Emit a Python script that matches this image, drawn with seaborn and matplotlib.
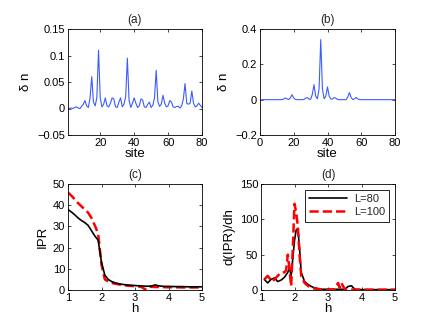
import numpy as np
import pandas as pd
import matplotlib
matplotlib.use("Agg")
import matplotlib.pyplot as plt
import seaborn as sns

# ---- data ----
site_a = list(range(1, 81))
dn_a = [0.001, 0.000, 0.001, 0.000, 0.002, 0.003, 0.001, 0.000, 0.004, 0.008,
        0.015, 0.005, 0.002, 0.020, 0.060, 0.012, 0.005, 0.020, 0.110, 0.020,
        0.003, 0.008, 0.020, 0.005, 0.003, 0.010, 0.020, 0.018, 0.003, 0.002,
        0.012, 0.020, 0.003, 0.008, 0.022, 0.095, 0.015, 0.002, 0.010, 0.020,
        0.010, 0.002, 0.005, 0.018, 0.016, 0.003, 0.002, 0.008, 0.012, 0.002,
        0.006, 0.020, 0.072, 0.012, 0.004, 0.008, 0.025, 0.010, 0.003, 0.005,
        0.015, 0.012, 0.003, 0.002, 0.004, 0.004, 0.001, 0.005, 0.018, 0.047,
        0.010, 0.008, 0.010, 0.033, 0.010, 0.003, 0.005, 0.010, 0.006, 0.002]

site_b = list(range(1, 81))
dn_b = [0, 0, 0, 0, 0, 0, 0, 0, 0, 0,
        0, 0, 0, 0.003, 0.010, 0.004, 0.001, 0.010, 0.028, 0.010,
        0.001, 0, 0, 0, 0, 0.001, 0.008, 0.012, 0.003, 0.002,
        0.030, 0.085, 0.020, 0.005, 0.060, 0.340, 0.060, 0.005, 0.020, 0.072,
        0.020, 0.003, 0.004, 0.012, 0.008, 0.001, 0, 0, 0, 0,
        0, 0.015, 0.040, 0.012, 0.001, 0.005, 0.012, 0.004, 0.001, 0,
        0, 0, 0, 0, 0, 0, 0, 0, 0, 0,
        0, 0, 0, 0, 0, 0, 0, 0, 0, 0]

h_c = [1.0, 1.1, 1.2, 1.3, 1.4, 1.5, 1.6, 1.7, 1.8, 1.9, 2.0, 2.1, 2.2, 2.3, 2.4,
       2.5, 2.6, 2.7, 2.8, 2.9, 3.0, 3.1, 3.2, 3.3, 3.4, 3.5, 3.6, 3.7, 3.8, 3.9,
       4.0, 4.2, 4.4, 4.6, 4.8, 5.0]
ipr_80 = [38.0, 36.8, 35.5, 34.0, 32.8, 31.8, 30.5, 28.0, 25.5, 23.5, 13.0, 7.0,
          5.0, 4.0, 3.4, 3.0, 2.7, 2.5, 2.3, 2.2, 2.1, 2.0, 1.9, 1.8, 1.8, 1.9,
          2.4, 2.0, 1.8, 1.7, 1.7, 1.6, 1.6, 1.5, 1.5, 1.5]
ipr_100 = [46.0, 44.5, 42.8, 41.0, 39.5, 38.0, 36.5, 34.0, 30.5, 26.5, 12.0, 5.0,
           4.0, 3.3, 3.0, 2.7, 2.4, 2.2, 2.0, 1.9, 1.8, 1.7, 1.4, 0.3, 1.5, 1.5,
           1.4, 1.4, 1.4, 1.3, 1.3, 1.3, 1.2, 1.2, 1.2, 1.2]

h_d80 = [1.1, 1.2, 1.3, 1.4, 1.5, 1.6, 1.7, 1.8, 1.85, 1.9, 1.95, 2.0, 2.05, 2.1,
         2.15, 2.2, 2.3, 2.4, 2.5, 2.6, 2.8, 3.0, 3.2, 3.4, 3.5, 3.6, 3.7, 3.8,
         4.0, 4.5, 5.0]
dipr_80 = [15, 10, 15, 17, 12, 14, 18, 25, 32, 20, 45, 70, 85, 87, 60, 25, 12, 8,
           5, 3, 1, 1, 1, 1, 1, 5, 6, 1, 0.5, 0.5, 0.5]
h_d100 = [1.1, 1.2, 1.3, 1.35, 1.4, 1.5, 1.6, 1.7, 1.75, 1.8, 1.85, 1.9, 1.95,
          2.0, 2.05, 2.1, 2.15, 2.2, 2.3, 2.4, 2.5, 2.6, 2.8, 3.0, 3.2, 3.3, 3.35,
          3.4, 3.5, 3.6, 4.0, 4.5, 5.0]
dipr_100 = [15, 20, 14, 12, 15, 20, 25, 25, 28, 50, 30, 5, 60, 122, 110, 90, 50,
            20, 10, 6, 3, 2, 1, 0.5, 1, 10, 3, 10, 1, 0.5, 0.5, 0.5, 0.5]

# ---- style ----
sns.set_theme(style="white")
plt.rcParams.update({
    "font.family": ["Liberation Sans", "DejaVu Sans"],
    "axes.edgecolor": "black",
    "axes.linewidth": 0.6,
    "xtick.direction": "in",
    "ytick.direction": "in",
    "xtick.top": True,
    "ytick.right": True,
    "xtick.bottom": True,
    "ytick.left": True,
    "xtick.major.size": 2.5,
    "ytick.major.size": 2.5,
    "xtick.major.width": 0.5,
    "ytick.major.width": 0.5,
    "xtick.labelsize": 8,
    "ytick.labelsize": 8,
    "xtick.color": "black",
    "ytick.color": "black",
    "axes.labelcolor": "black",
})

fig = plt.figure(figsize=(4.36, 3.28), dpi=100)
W, H = 436, 328

def add_ax(l, t, r, b):
    return fig.add_axes([l / W, 1 - b / H, (r - l) / W, (b - t) / H])

ax_a = add_ax(68, 29, 202, 135)
ax_b = add_ax(260, 29, 395, 135)
ax_c = add_ax(68, 184, 202, 290)
ax_d = add_ax(261, 184, 395, 290)

blue = "#3a5cff"
LAB = 9.5
TIT = 8.5
sns.lineplot(x=site_a, y=dn_a, ax=ax_a, color=blue, lw=0.8, estimator=None)
ax_a.set_xlim(1, 80)
ax_a.set_ylim(-0.05, 0.15)
ax_a.set_xticks([20, 40, 60, 80])
ax_a.set_yticks([-0.05, 0, 0.05, 0.1, 0.15])
ax_a.set_yticklabels(["\u22120.05", "0", "0.05", "0.1", "0.15"])
ax_a.set_xlabel("site", fontsize=LAB, labelpad=0)
ax_a.set_ylabel("\u03b4 n", fontsize=LAB, labelpad=4)
ax_a.set_title("(a)", fontsize=TIT, pad=4)

sns.lineplot(x=site_b, y=dn_b, ax=ax_b, color=blue, lw=0.8, estimator=None)
ax_b.set_xlim(0, 80)
ax_b.set_ylim(-0.2, 0.4)
ax_b.set_xticks([0, 20, 40, 60, 80])
ax_b.set_yticks([-0.2, 0, 0.2, 0.4])
ax_b.set_yticklabels(["\u22120.2", "0", "0.2", "0.4"])
ax_b.set_xlabel("site", fontsize=LAB, labelpad=0)
ax_b.set_ylabel("\u03b4 n", fontsize=LAB, labelpad=4)
ax_b.set_title("(b)", fontsize=TIT, pad=4)

sns.lineplot(x=h_c, y=ipr_100, ax=ax_c, color="red", lw=1.8, linestyle="--",
             dashes=(3.5, 2), estimator=None)
sns.lineplot(x=h_c, y=ipr_80, ax=ax_c, color="black", lw=1.2, estimator=None)
ax_c.set_xlim(1, 5)
ax_c.set_ylim(0, 50)
ax_c.set_xticks([1, 2, 3, 4, 5])
ax_c.set_yticks([0, 10, 20, 30, 40, 50])
ax_c.set_xlabel("h", fontsize=LAB, labelpad=0)
ax_c.set_ylabel("IPR", fontsize=LAB, labelpad=3)
ax_c.set_title("(c)", fontsize=TIT, pad=4)

sns.lineplot(x=h_d80, y=dipr_80, ax=ax_d, color="black", lw=1.2,
             estimator=None, label="L=80")
sns.lineplot(x=h_d100, y=dipr_100, ax=ax_d, color="red", lw=1.8,
             linestyle="--", dashes=(3.5, 2), estimator=None, label="L=100")
ax_d.set_xlim(1, 5)
ax_d.set_ylim(0, 150)
ax_d.set_xticks([1, 2, 3, 4, 5])
ax_d.set_yticks([0, 50, 100, 150])
ax_d.set_xlabel("h", fontsize=LAB, labelpad=0)
ax_d.set_ylabel("d(IPR)/dh", fontsize=LAB, labelpad=3)
ax_d.set_title("(d)", fontsize=TIT, pad=4)
leg = ax_d.legend(loc="upper right", fontsize=8, frameon=True, fancybox=False,
                  edgecolor="black", framealpha=1, handlelength=3.4,
                  borderpad=0.4, labelspacing=0.3, handletextpad=0.6,
                  borderaxespad=0.5)
leg.get_frame().set_linewidth(0.6)

for ax in (ax_a, ax_b, ax_c, ax_d):
    for s in ax.spines.values():
        s.set_visible(True)
        s.set_color("black")
    ax.tick_params(pad=2)

fig.savefig("out.png", dpi=100)
